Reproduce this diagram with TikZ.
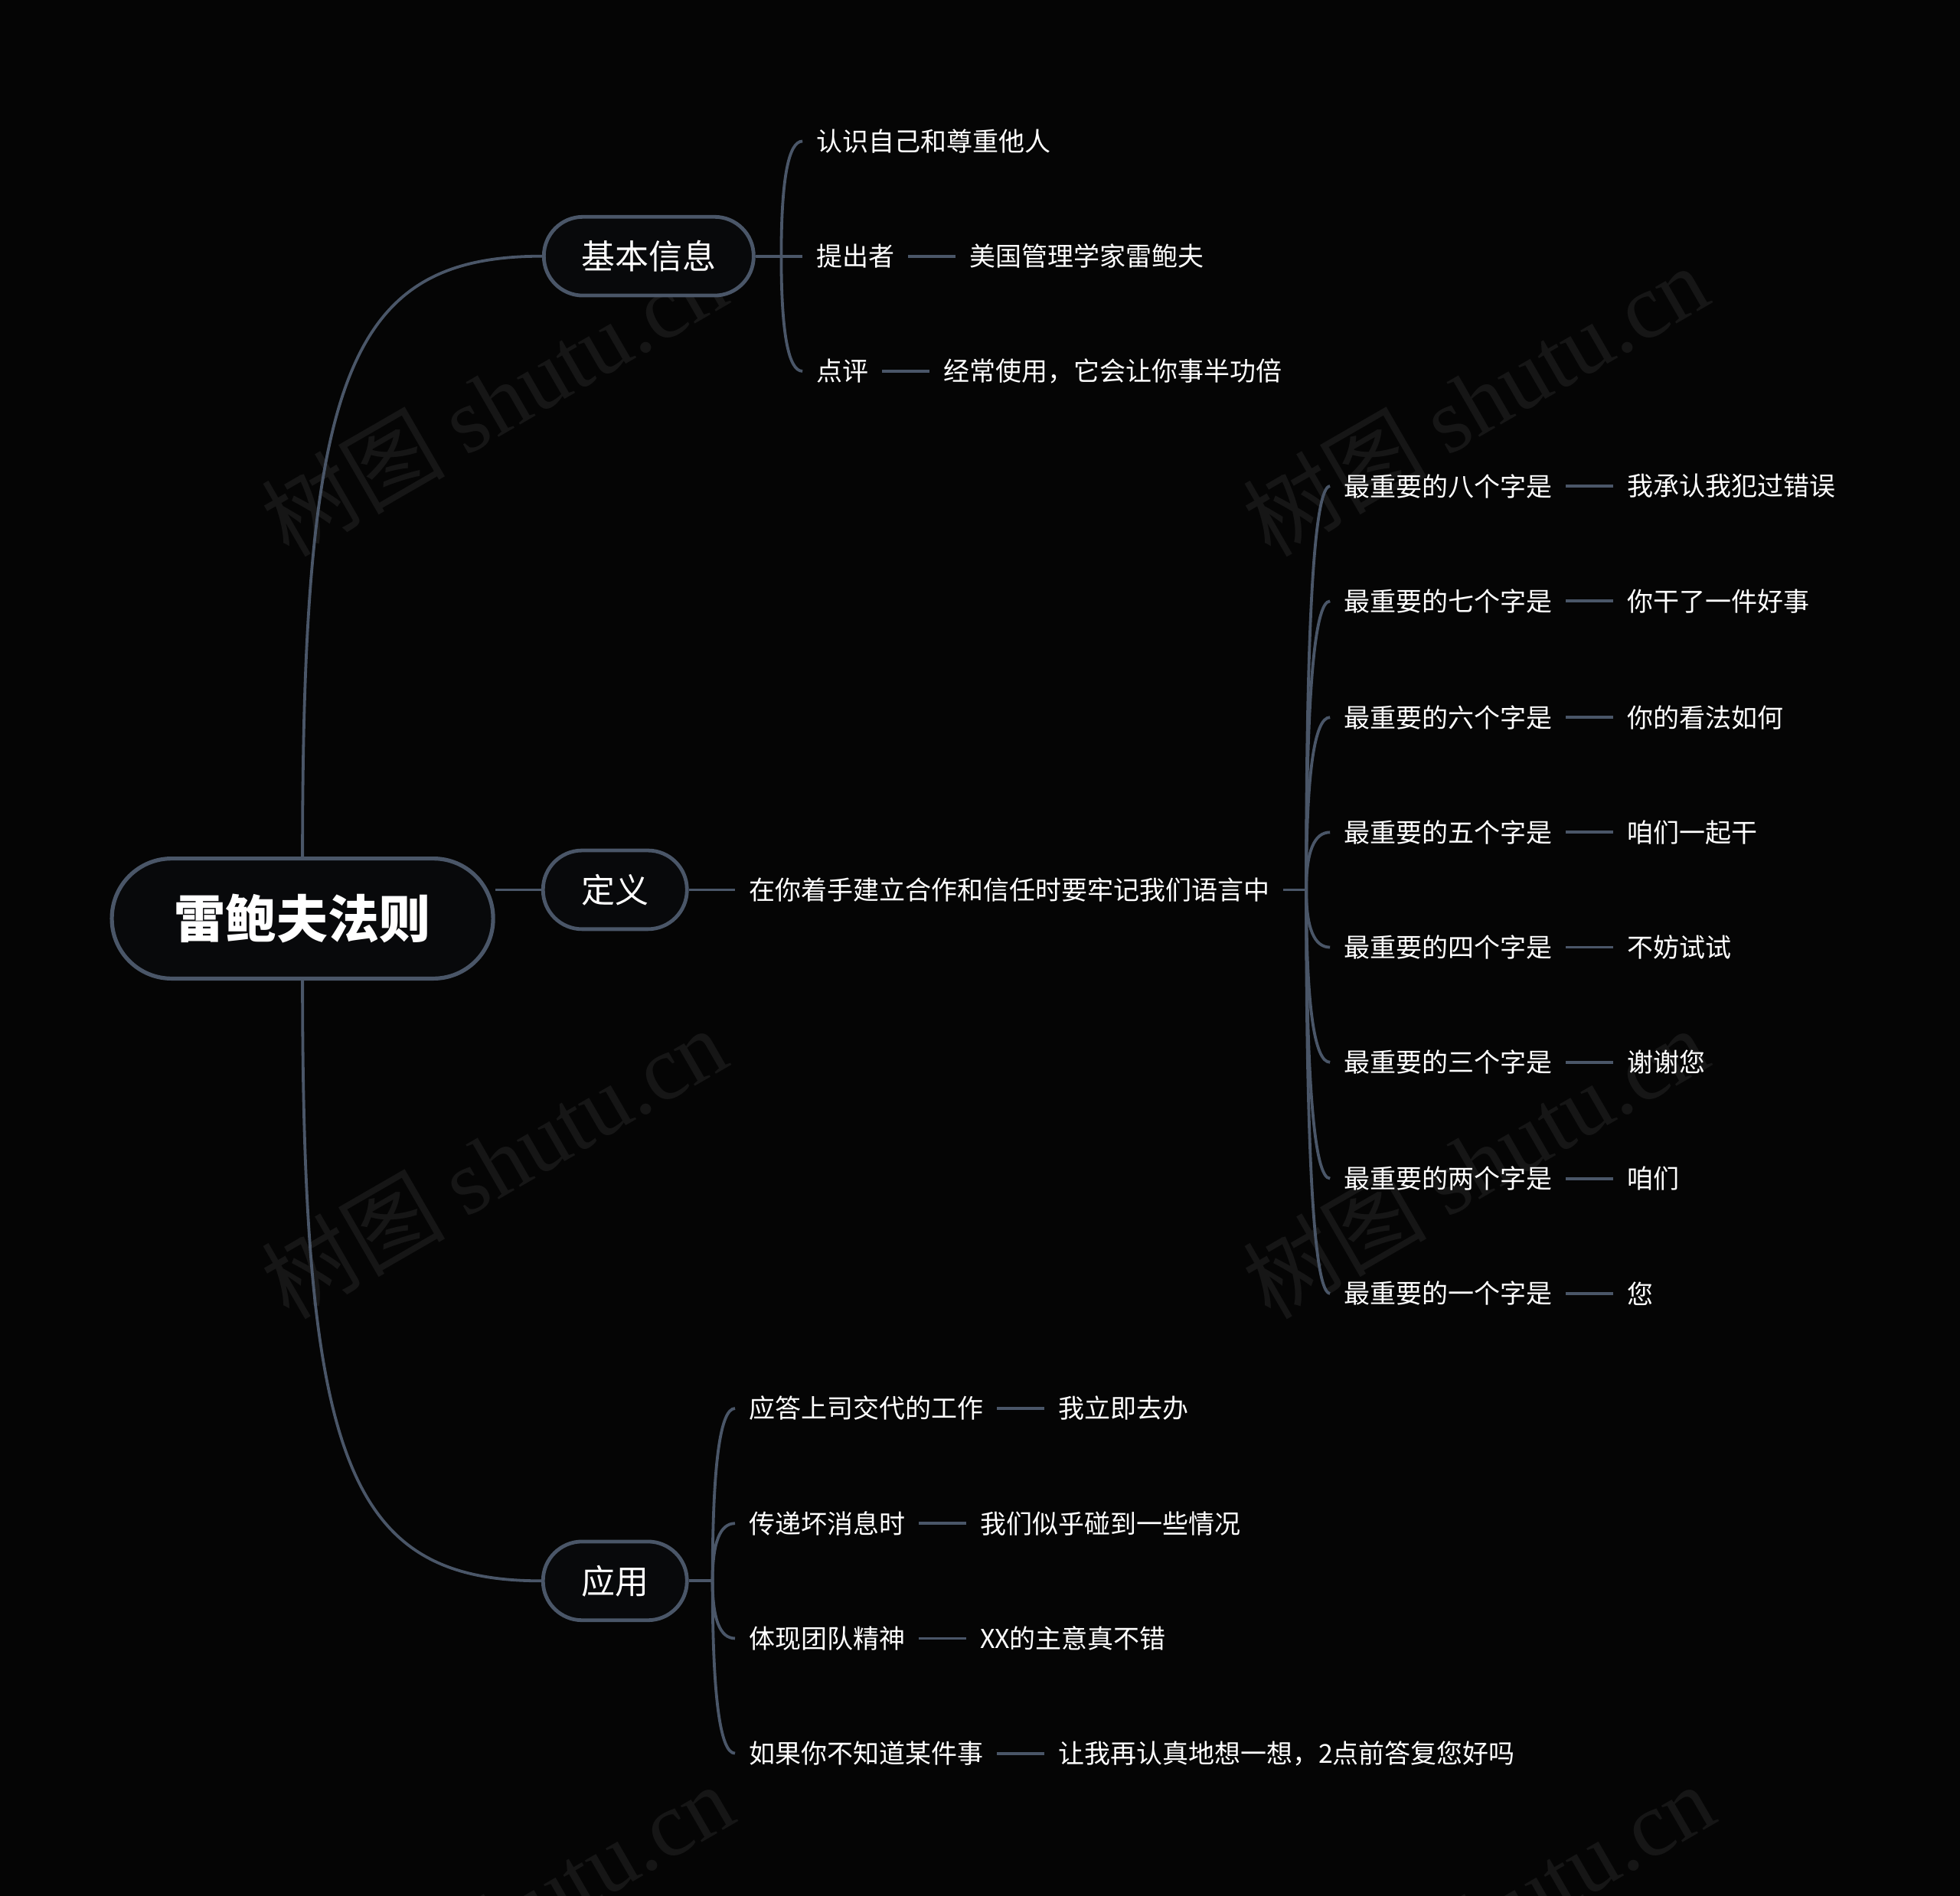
\documentclass[tikz,border=0pt]{standalone}
\usepackage{fontspec}
\setmainfont{Noto Sans CJK SC}
\newfontfamily\wmserif{Liberation Serif}
\usetikzlibrary{calc,positioning,backgrounds}
\definecolor{bgc}{HTML}{050505}
\definecolor{linec}{HTML}{4A5668}
\definecolor{boxfill}{HTML}{08090B}
\definecolor{wmc}{HTML}{161616}
\newcommand{\brc}[2]{\draw[conn] (#1) .. controls ($(#1)!0.6667!(#1 |- #2.west)$) and ($(#2.west)!0.6667!(#1 |- #2.west)$) .. (#2.west);}
\begin{document}
\begin{tikzpicture}[x=0.8163pt,y=-0.8163pt,
 conn/.style={draw=linec,line width=1.9pt},
 leaf/.style={text=white,inner sep=0pt,outer xsep=9pt,anchor=west,font=\fontsize{17pt}{20pt}\selectfont},
 branch/.style={draw=linec,line width=2.4pt,fill=boxfill,text=white,rounded corners=25.5pt,minimum height=51.4pt,inner sep=0pt,font=\fontsize{22pt}{26pt}\selectfont},
 rootbox/.style={draw=linec,line width=2.6pt,fill=boxfill,text=white,rounded corners=39pt,minimum height=78.4pt,minimum width=249pt,inner sep=0pt,font=\fontsize{33.5pt}{38pt}\selectfont\bfseries},
 wm/.style={text=wmc,rotate=30,font=\fontsize{60pt}{60pt}\selectfont}]
\useasboundingbox (0,0) rectangle (1568,1517);

% main nodes
\node[rootbox] (root) at (242,735) {雷鲍夫法则};
\node[branch,minimum width=137pt] (ji) at (519,205) {基本信息};
\node[branch,minimum width=94pt] (dy) at (492,712) {定义};
\node[branch,minimum width=94pt] (yy) at (492,1265) {应用};

% 基本信息 children
\coordinate (jk) at (625,205);
\node[leaf] (k1) at (642,113) {认识自己和尊重他人};
\node[leaf] (k2) at (642,205) {提出者};
\node[leaf,right=31pt of k2] (k2v) {美国管理学家雷鲍夫};
\node[leaf] (k3) at (642,297) {点评};
\node[leaf,right=31pt of k3] (k3v) {经常使用，它会让你事半功倍};

% 定义 children
\node[leaf] (d0) at (588,712) {在你着手建立合作和信任时要牢记我们语言中};
\coordinate (jd) at (1045,712);
\node[leaf] (d8) at (1064,389) {最重要的八个字是};
\node[leaf,right=31pt of d8] (d8v) {我承认我犯过错误};
\node[leaf] (d7) at (1064,481) {最重要的七个字是};
\node[leaf,right=31pt of d7] (d7v) {你干了一件好事};
\node[leaf] (d6) at (1064,574) {最重要的六个字是};
\node[leaf,right=31pt of d6] (d6v) {你的看法如何};
\node[leaf] (d5) at (1064,666) {最重要的五个字是};
\node[leaf,right=31pt of d5] (d5v) {咱们一起干};
\node[leaf] (d4) at (1064,758) {最重要的四个字是};
\node[leaf,right=31pt of d4] (d4v) {不妨试试};
\node[leaf] (d3) at (1064,850) {最重要的三个字是};
\node[leaf,right=31pt of d3] (d3v) {谢谢您};
\node[leaf] (d2) at (1064,943) {最重要的两个字是};
\node[leaf,right=31pt of d2] (d2v) {咱们};
\node[leaf] (d1) at (1064,1035) {最重要的一个字是};
\node[leaf,right=31pt of d1] (d1v) {您};

% 应用 children
\coordinate (ja) at (570,1265);
\node[leaf] (a1) at (588,1127) {应答上司交代的工作};
\node[leaf,right=31pt of a1] (a1v) {我立即去办};
\node[leaf] (a2) at (588,1219) {传递坏消息时};
\node[leaf,right=31pt of a2] (a2v) {我们似乎碰到一些情况};
\node[leaf] (a3) at (588,1311) {体现团队精神};
\node[leaf,right=31pt of a3] (a3v) {XX的主意真不错};
\node[leaf] (a4) at (588,1403) {如果你不知道某件事};
\node[leaf,right=31pt of a4] (a4v) {让我再认真地想一想，2点前答复您好吗};

\begin{pgfonlayer}{background}
\fill[bgc] (0,0) rectangle (1568,1517);
% watermark
\node[wm] (wm1) at (395,320) {树图 {\wmserif shutu.cn}};
\node[wm] (wm2) at (1180,320) {树图 {\wmserif shutu.cn}};
\node[wm] (wm3) at (395,930) {树图 {\wmserif shutu.cn}};
\node[wm] (wm4) at (1180,930) {树图 {\wmserif shutu.cn}};
\node[wm] (wm5) at (400,1535) {树图 {\wmserif shutu.cn}};
\node[wm] (wm6) at (1185,1535) {树图 {\wmserif shutu.cn}};

% root connectors
\draw[conn] (root.north) .. controls ($(root.north)!0.8!(root.north |- ji.west)$) and ($(root.north |- ji.west)!0.19!(ji.west)$) .. (ji.west);
\draw[conn] (root.south) .. controls ($(root.south)!0.8!(root.south |- yy.west)$) and ($(root.south |- yy.west)!0.19!(yy.west)$) .. (yy.west);
\draw[conn] (dy.west) -- (dy.west -| root.east);

% 基本信息
\draw[conn] (ji.east) -- (k2.west);
\brc{jk}{k1}
\brc{jk}{k3}
\draw[conn] (k2.east) -- (k2v.west);
\draw[conn] (k3.east) -- (k3v.west);

% 定义
\draw[conn] (dy.east) -- (d0.west);
\draw[conn] (d0.east) -- (jd);
\foreach \n in {d1,d2,d3,d4,d5,d6,d7,d8}{
  \brc{jd}{\n}
  \draw[conn] (\n.east) -- (\n v.west);
}

% 应用
\draw[conn] (yy.east) -- (ja);
\foreach \n in {a1,a2,a3,a4}{
  \brc{ja}{\n}
  \draw[conn] (\n.east) -- (\n v.west);
}
\end{pgfonlayer}
\end{tikzpicture}
\end{document}
